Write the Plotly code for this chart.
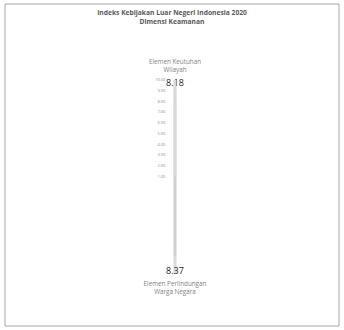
import plotly.graph_objects as go

title_lines = ["Indeks Kebijakan Luar Negeri Indonesia 2020", "Dimensi Keamanan"]
categories = ["Elemen Keutuhan<br>Wilayah", "Elemen Perlindungan<br>Warga Negara"]
values = [8.18, 8.37]
tick_vals = [1, 2, 3, 4, 5, 6, 7, 8, 9, 10]
tick_text = ["1.00", "2.00", "3.00", "4.00", "5.00", "6.00", "7.00", "8.00", "9.00", "10.00"]

W, H = 344, 330
cx, cy, R = 175, 176.5, 96.5

labels = [f"{values[0]:.2f}<br> ", f" <br>{values[1]:.2f}"]

fig = go.Figure()
fig.add_trace(go.Scatterpolar(
    r=values,
    theta=categories,
    mode="lines+text",
    line=dict(color="#d0d0d0", width=2.5),
    text=labels,
    textposition=["top center", "bottom center"],
    textfont=dict(family="Open Sans", size=9, color="#262626"),
    cliponaxis=False,
    showlegend=False,
    hoverinfo="skip",
))

fig.update_layout(
    width=W, height=H,
    margin=dict(l=0, r=0, t=0, b=0),
    paper_bgcolor="white",
    plot_bgcolor="white",
    title=dict(
        text="<b>" + "<br>".join(title_lines) + "</b>",
        x=0.5, xanchor="center", y=1 - 15 / H, yanchor="top",
        font=dict(family="Open Sans", size=6.7, color="#595959"),
    ),
    polar=dict(
        domain=dict(x=[(cx - R) / W, (cx + R) / W], y=[(H - cy - R) / H, (H - cy + R) / H]),
        bgcolor="rgba(0,0,0,0)",
        gridshape="circular",
        radialaxis=dict(
            range=[1, 10],
            tickvals=tick_vals,
            ticktext=tick_text,
            angle=90,
            side="counterclockwise",
            tickfont=dict(family="Open Sans", size=4, color="#8c8c8c"),
            showline=True, linecolor="#d9d9d9", linewidth=2.5,
            showgrid=False,
            ticks="outside", ticklen=7, tickcolor="rgba(0,0,0,0)", tickangle=90,
        ),
        angularaxis=dict(
            rotation=90, direction="clockwise",
            tickfont=dict(family="Open Sans", size=6.3, color="#7f7f7f"),
            showline=False,
            showgrid=True, gridcolor="#d9d9d9", gridwidth=2.5,
            ticks="outside", ticklen=5, tickcolor="rgba(0,0,0,0)",
        ),
    ),
    shapes=[dict(type="rect", xref="paper", yref="paper", x0=5 / W, x1=339 / W, y0=4 / H, y1=326 / H,
                 line=dict(color="#a6a6a6", width=1))],
)

fig.write_html("out.html", config={"displayModeBar": False},
               post_script="document.body.style.margin='0';")
